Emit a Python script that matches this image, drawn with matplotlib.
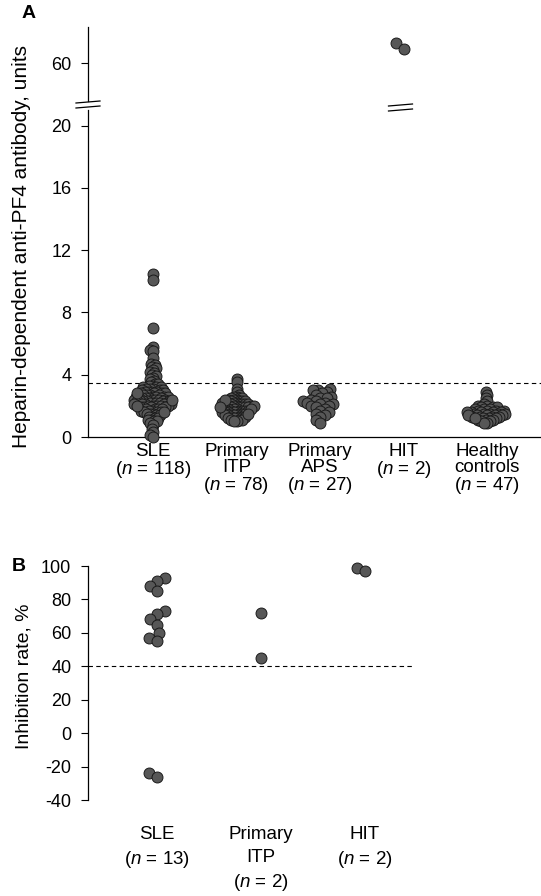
"""Heparin-dependent anti-PF4 antibody levels and inhibition rates by patient group"""
import numpy as np
import matplotlib
matplotlib.use("Agg")
import matplotlib.pyplot as plt

# ---- data ----
groups_a = ["SLE\n($n$ = 118)", "Primary\nITP\n($n$ = 78)", "Primary\nAPS\n($n$ = 27)",
            "HIT\n($n$ = 2)", "Healthy\ncontrols\n($n$ = 47)"]

sle = [10.5, 10.1, 7.0, 5.8, 5.6, 5.5, 5.1, 4.7, 4.6, 4.5,
       4.4, 4.3, 4.2, 4.1, 4.0, 3.9, 3.8, 3.7, 3.6, 3.5,
       3.4, 3.4, 3.3, 3.3, 3.2, 3.2, 3.2, 3.1, 3.1, 3.1,
       3.0, 3.0, 3.0, 2.9, 2.9, 2.9, 2.9, 2.8, 2.8, 2.8,
       2.8, 2.7, 2.7, 2.7, 2.7, 2.6, 2.6, 2.6, 2.6, 2.6,
       2.5, 2.5, 2.5, 2.5, 2.5, 2.4, 2.4, 2.4, 2.4, 2.4,
       2.3, 2.3, 2.3, 2.3, 2.3, 2.3, 2.2, 2.2, 2.2, 2.2,
       2.2, 2.1, 2.1, 2.1, 2.1, 2.1, 2.0, 2.0, 2.0, 2.0,
       2.0, 1.9, 1.9, 1.9, 1.9, 1.8, 1.8, 1.8, 1.8, 1.7,
       1.7, 1.7, 1.6, 1.6, 1.6, 1.5, 1.5, 1.5, 1.4, 1.4,
       1.3, 1.3, 1.2, 1.2, 1.1, 1.1, 1.0, 1.0, 0.9, 0.8,
       0.5, 0.3, 0.1, 0.0, 2.4, 2.0, 1.6, 2.8]

itp = [3.7, 3.5, 3.1, 2.9, 2.7, 2.6, 2.6, 2.5, 2.5, 2.5,
       2.4, 2.4, 2.4, 2.3, 2.3, 2.3, 2.3, 2.2, 2.2, 2.2,
       2.2, 2.1, 2.1, 2.1, 2.1, 2.1, 2.0, 2.0, 2.0, 2.0,
       2.0, 2.0, 1.9, 1.9, 1.9, 1.9, 1.9, 1.8, 1.8, 1.8,
       1.8, 1.8, 1.7, 1.7, 1.7, 1.7, 1.7, 1.6, 1.6, 1.6,
       1.6, 1.6, 1.5, 1.5, 1.5, 1.5, 1.4, 1.4, 1.4, 1.4,
       1.3, 1.3, 1.3, 1.3, 1.2, 1.2, 1.2, 1.1, 1.1, 1.1,
       1.0, 1.0, 2.0, 1.8, 2.2, 1.5, 2.4, 1.9]

aps = [3.1, 3.0, 3.0, 2.9, 2.8, 2.7, 2.6, 2.5, 2.5, 2.4,
       2.3, 2.3, 2.2, 2.2, 2.1, 2.1, 2.0, 2.0, 1.9, 1.8,
       1.7, 1.6, 1.5, 1.4, 1.3, 1.1, 0.9]

hit = [70, 67]

healthy = [2.9, 2.7, 2.5, 2.3, 2.1, 2.0, 2.0, 1.9, 1.9, 1.9,
           1.8, 1.8, 1.8, 1.7, 1.7, 1.7, 1.7, 1.6, 1.6, 1.6,
           1.6, 1.5, 1.5, 1.5, 1.5, 1.5, 1.4, 1.4, 1.4, 1.4,
           1.3, 1.3, 1.3, 1.3, 1.2, 1.2, 1.2, 1.1, 1.1, 1.1,
           1.0, 1.0, 0.9, 0.9, 1.6, 1.4, 1.2]

cutoff_a = 3.45

groups_b = ["SLE\n($n$ = 13)", "Primary\nITP\n($n$ = 2)", "HIT\n($n$ = 2)"]
inhib_sle = [93, 91, 88, 85, 73, 71, 68, 65, 60, 57, 55, -24, -26]
inhib_itp = [72, 45]
inhib_hit = [99, 97]
cutoff_b = 40

# ---- style ----
plt.rcParams["font.family"] = ["Liberation Sans", "DejaVu Sans"]
plt.rcParams["mathtext.fontset"] = "custom"
plt.rcParams["mathtext.rm"] = "Liberation Sans"
plt.rcParams["mathtext.it"] = "Liberation Sans:italic"
plt.rcParams["axes.unicode_minus"] = False

W, H = 541, 896
FILL = "#575757"
EDGE = "#1a1a1a"
MS = 62
FS_TICK = 13
FS_CAT = 13.5

fig = plt.figure(figsize=(W / 100, H / 100), dpi=100)


def px_axes(left, top, right, bottom):
    """Axes placed by pixel box"""
    return fig.add_axes([left / W, 1 - bottom / H, (right - left) / W, (bottom - top) / H])


def swarm(values, d, yscale):
    """Beeswarm x offsets in pixels, d = min centre distance in pixels"""
    ys = np.asarray(values, float) * yscale
    xs = np.zeros(len(ys))
    placed = []
    for i in np.argsort(ys, kind="stable"):
        y = ys[i]
        cands = [0.0]
        for j in placed:
            dy = y - ys[j]
            if abs(dy) < d:
                dx = np.sqrt(d * d - dy * dy)
                cands += [xs[j] - dx, xs[j] + dx]
        cands.sort(key=lambda c: (abs(c), c))
        for c in cands:
            if all((c - xs[j]) ** 2 + (y - ys[j]) ** 2 >= d * d - 1e-6 for j in placed):
                xs[i] = c
                break
        placed.append(i)
    return xs


def style_axis(ax):
    ax.tick_params(axis="y", direction="out", length=5, width=0.8, pad=7, labelsize=FS_TICK)
    for s in ["top", "right"]:
        ax.spines[s].set_visible(False)
    ax.spines["left"].set_linewidth(0.9)
    ax.spines["bottom"].set_linewidth(0.9)


def dots(ax, x, y):
    ax.scatter(x, y, s=MS, c=FILL, edgecolors=EDGE, linewidths=0.7, clip_on=False, zorder=3)


# ---- panel A ----
A_LEFT, A_RIGHT = 88, 541
A_X0, A_DX = 153, 83.5  # pixel centre of first group, spacing
xlim_a = ((A_LEFT - A_X0) / A_DX, (A_RIGHT - A_X0) / A_DX)

ax_lo = px_axes(A_LEFT, 110, A_RIGHT, 437)
ax_hi = px_axes(A_LEFT, 27, A_RIGHT, 101)
lo_lim, hi_lim = (0, 21), (41, 78)
lo_scale = 327 / (lo_lim[1] - lo_lim[0])
hi_scale = 74 / (hi_lim[1] - hi_lim[0])

for ax in (ax_lo, ax_hi):
    style_axis(ax)
    ax.set_xlim(*xlim_a)

lo_groups = [(0, sle, 3.3), (1, itp, 3.0), (2, aps, 5.0), (4, healthy, 3.4)]
for pos, vals, d in lo_groups:
    dots(ax_lo, pos + swarm(vals, d, lo_scale) / A_DX, vals)
dots(ax_hi, 3 + swarm(hit, 10, hi_scale) / A_DX, hit)

ax_lo.set_ylim(*lo_lim)
ax_lo.set_yticks([0, 4, 8, 12, 16, 20])
ax_lo.axhline(cutoff_a, color="black", lw=0.8, dashes=(4, 3), zorder=2)
ax_lo.set_xticks(range(len(groups_a)))
ax_lo.set_xticklabels(groups_a, fontsize=FS_CAT, linespacing=0.95)
ax_lo.tick_params(axis="x", length=0, pad=4)

ax_hi.set_ylim(*hi_lim)
ax_hi.set_yticks([60])
ax_hi.spines["bottom"].set_visible(False)
ax_hi.set_xticks([])

# axis break marks
for cx, pys in ((A_LEFT, (102, 107)), (A_X0 + 3 * A_DX - 3, (105, 110))):
    for py in pys:
        fig.add_artist(plt.Line2D([(cx - 12) / W, (cx + 12) / W],
                                  [1 - (py + 1) / H, 1 - (py - 1) / H],
                                  color="black", lw=0.9))

fig.text(22 / W, 1 - 246 / H, "Heparin-dependent anti-PF4 antibody, units",
         rotation=90, ha="center", va="center", fontsize=15)
fig.text(29 / W, 1 - 13 / H, "A", ha="center", va="center", fontsize=14, fontweight="bold")

# ---- panel B ----
B_LEFT, B_RIGHT = 88, 415
B_X0, B_DX = 157, 104
ax_b = px_axes(B_LEFT, 566, B_RIGHT, 800)
style_axis(ax_b)
ax_b.spines["bottom"].set_visible(False)
ax_b.set_xlim((B_LEFT - B_X0) / B_DX, (B_RIGHT - B_X0) / B_DX)
ax_b.set_ylim(-40, 100)
b_scale = 234 / 140
for pos, vals in enumerate([inhib_sle, inhib_itp, inhib_hit]):
    dots(ax_b, pos + swarm(vals, 8.5, b_scale) / B_DX, vals)
ax_b.axhline(cutoff_b, color="black", lw=0.8, dashes=(4, 3), zorder=2)
ax_b.set_yticks(range(-40, 101, 20))
ax_b.set_xticks(range(len(groups_b)))
ax_b.set_xticklabels(groups_b, fontsize=FS_CAT, linespacing=1.4)
ax_b.tick_params(axis="x", length=0, pad=19)

fig.text(24 / W, 1 - 676 / H, "Inhibition rate, %", rotation=90, ha="center",
         va="center", fontsize=14)
fig.text(19 / W, 1 - 566 / H, "B", ha="center", va="center", fontsize=14, fontweight="bold")

fig.savefig("out.png", dpi=100)
